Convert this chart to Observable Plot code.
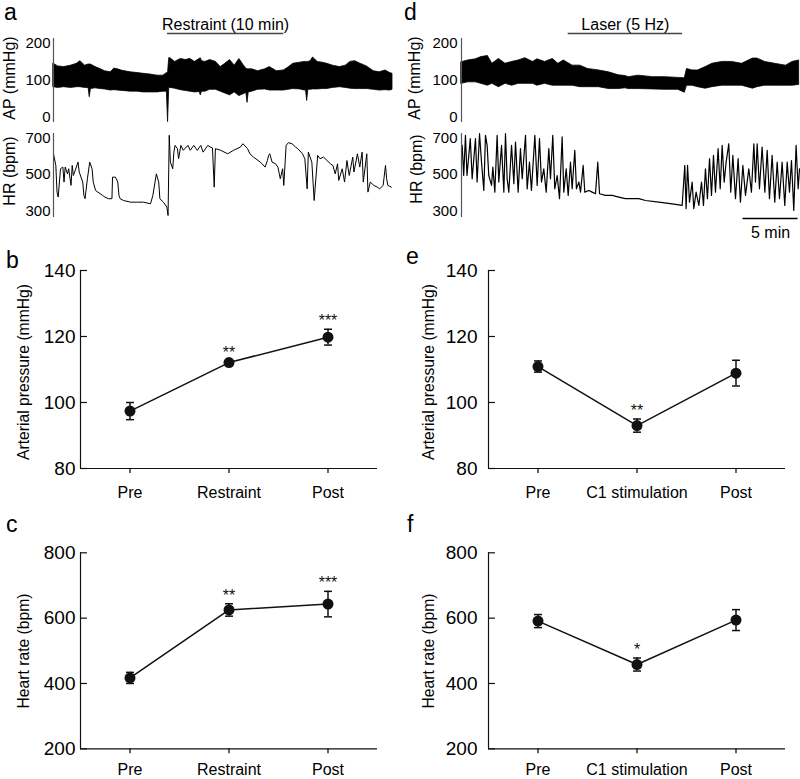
<!DOCTYPE html>
<html><head><meta charset="utf-8">
<script src="https://cdn.jsdelivr.net/npm/d3@7"></script>
<script src="https://cdn.jsdelivr.net/npm/@observablehq/plot@0.6"></script>
<style>
body{margin:0;background:#fff;}
#fig{position:relative;width:800px;height:779px;overflow:hidden;font-family:"Liberation Sans",Arial,Helvetica,sans-serif;color:#000;background:#fff;}
.p{position:absolute;}
.p svg{overflow:visible;}
#overlay{position:absolute;left:0;top:0;pointer-events:none;}
</style></head><body><div id="fig"></div><script>
// ---------- data ----------
// Panel a: restraint recording. AP trace envelope rows [time (min), low, high] in mmHg
const apRestraint = [[0.0,82,145],[0.4,80,138],[0.9,82,136],[1.5,80,140],[2.0,82,145],[2.3,82,152],[2.7,80,140],[3.0,80,143],[3.1,55,143],[3.2,77,143],[3.6,79,136],[4.0,77,131],[4.4,76,125],[4.9,73,122],[5.2,74,132],[5.5,73,130],[5.9,72,126],[6.6,70,122],[7.2,70,120],[7.7,68,118],[8.3,68,116],[8.9,68,113],[9.4,70,113],[9.7,70,120],[9.8,-12,120],[9.9,80,160],[10.0,80,160],[10.4,78,150],[10.9,74,158],[11.3,72,155],[11.7,70,158],[12.1,68,150],[12.5,69,158],[12.6,60,160],[12.7,70,152],[13.0,70,150],[13.4,75,155],[13.9,75,150],[14.3,70,136],[14.7,65,145],[15.1,60,155],[15.5,68,140],[15.9,58,158],[16.4,65,135],[16.5,66,132],[16.6,40,130],[16.7,68,130],[17.0,70,130],[17.5,75,125],[18.1,76,130],[18.5,73,136],[19.1,73,125],[19.7,73,127],[20.1,75,135],[20.5,77,145],[21.1,76,148],[21.5,73,150],[21.6,74,150],[21.7,45,150],[21.8,75,150],[22.0,75,152],[22.2,76,162],[22.6,76,150],[23.0,77,148],[23.4,77,145],[23.9,80,140],[24.5,82,136],[25.0,80,140],[25.4,78,150],[25.8,77,152],[26.2,77,146],[26.8,77,138],[27.4,75,125],[27.9,73,122],[28.4,74,127],[28.8,73,120],[29.0,75,118]];
// Panel a: HR trace rows [time (min), bpm]
const hrRestraint = [[0.0,613],[0.2,549],[0.3,403],[0.4,376],[0.6,531],[0.8,540],[0.9,458],[1.0,540],[1.2,503],[1.3,531],[1.5,440],[1.6,549],[1.7,494],[2.1,567],[2.2,513],[2.5,458],[2.6,385],[2.7,367],[2.9,476],[3.1,567],[3.3,531],[3.4,458],[3.6,412],[3.8,403],[4.2,385],[4.4,376],[4.7,367],[5.0,367],[5.05,485],[5.3,485],[5.5,458],[5.6,385],[5.7,367],[6.0,357],[6.6,348],[7.2,348],[7.7,348],[8.3,339],[8.5,385],[8.8,503],[9.0,458],[9.1,367],[9.4,348],[9.7,321],[9.8,275],[9.9,714],[10.0,567],[10.2,531],[10.3,622],[10.4,659],[10.6,641],[10.7,586],[10.9,659],[11.1,632],[11.5,659],[11.7,632],[12.0,659],[12.3,632],[12.6,659],[12.8,622],[13.2,659],[13.4,650],[13.6,645],[13.75,430],[13.85,641],[14.3,632],[14.9,613],[15.4,632],[16.0,650],[16.2,668],[16.6,641],[16.8,613],[17.1,595],[17.7,567],[18.1,540],[18.3,576],[18.4,604],[18.5,613],[18.7,567],[19.0,558],[19.2,540],[19.4,476],[19.6,531],[19.7,440],[19.9,659],[20.1,674],[20.4,668],[20.7,650],[20.9,641],[21.3,613],[21.5,586],[21.7,421],[21.8,622],[22.1,567],[22.3,357],[22.6,604],[22.8,586],[23.1,595],[23.4,576],[23.7,558],[23.9,549],[24.1,503],[24.3,558],[24.4,467],[24.7,531],[24.9,458],[25.1,576],[25.3,494],[25.6,595],[25.7,513],[26.0,613],[26.2,540],[26.4,622],[26.5,458],[26.8,613],[26.9,403],[27.1,458],[27.4,440],[27.7,430],[27.9,421],[28.2,440],[28.4,549],[28.5,476],[28.6,440],[28.9,430]];
const restraintBar = {label: "Restraint (10 min)", start: 9.75, end: 19.7};
const restraintDuration = 29.0;

// Panel d: laser recording. AP envelope rows [time (min), low, high]
const apLaser = [[0.0,91,149],[0.6,95,154],[1.3,95,157],[1.8,91,163],[2.4,86,166],[2.8,91,145],[3.4,82,158],[4.0,91,145],[4.6,86,150],[5.2,91,154],[5.8,91,160],[6.5,91,150],[6.9,86,157],[7.6,91,150],[8.3,86,158],[8.8,86,145],[9.3,86,154],[10.1,86,140],[10.8,82,140],[11.5,82,131],[12.5,82,127],[13.4,77,122],[14.3,77,114],[14.9,79,112],[15.2,77,109],[16.1,77,113],[17.4,76,109],[18.5,75,109],[19.7,75,107],[20.3,67,106],[20.5,86,131],[21.0,86,127],[21.5,82,127],[22.2,78,136],[22.8,82,145],[23.7,86,150],[24.6,86,150],[25.5,86,145],[26.5,78,159],[26.9,82,159],[27.6,86,150],[28.5,86,145],[29.5,86,140],[30.1,86,150],[30.7,88,154]];
// Panel d: HR rows [time (min), bpm]
const hrLaser = [[0.06,659],[0.2,494],[0.36,714],[0.5,494],[0.8,696],[0.97,476],[1.27,696],[1.42,458],[1.64,723],[1.82,567],[2.03,412],[2.18,714],[2.33,659],[2.48,494],[2.73,440],[2.85,540],[3.03,403],[3.24,714],[3.39,458],[3.64,659],[3.85,403],[4.0,723],[4.15,476],[4.3,403],[4.55,659],[4.76,449],[4.91,677],[5.15,403],[5.36,641],[5.52,476],[5.82,714],[5.97,421],[6.18,567],[6.36,412],[6.67,714],[6.88,440],[7.09,696],[7.27,458],[7.48,531],[7.7,403],[7.94,641],[8.09,476],[8.3,714],[8.48,421],[8.7,494],[8.91,367],[9.15,705],[9.3,403],[9.52,531],[9.7,385],[9.91,567],[10.06,421],[10.3,632],[10.45,421],[10.67,458],[10.82,403],[11.06,549],[11.21,403],[11.58,412],[11.88,403],[12.18,394],[12.39,567],[12.55,394],[13.09,385],[13.7,385],[14.3,376],[14.9,367],[16.12,367],[16.73,357],[17.94,348],[19.15,339],[20.06,330],[20.3,549],[20.42,312],[20.55,549],[20.73,348],[20.97,458],[21.12,312],[21.33,403],[21.58,330],[21.82,458],[22.0,330],[22.18,531],[22.36,367],[22.55,586],[22.73,385],[22.91,604],[23.09,403],[23.33,641],[23.52,421],[23.7,659],[23.88,458],[24.06,567],[24.3,668],[24.48,403],[24.67,604],[24.91,367],[25.15,586],[25.36,348],[25.58,549],[25.82,385],[26.12,531],[26.36,403],[26.58,668],[26.73,458],[26.88,668],[27.09,421],[27.33,650],[27.58,403],[27.79,632],[28.0,367],[28.24,604],[28.48,348],[28.7,567],[28.91,367],[29.15,567],[29.39,330],[29.61,567],[29.82,403],[30.0,576],[30.21,303],[30.42,659],[30.61,421],[30.73,531]];
const laserBar = {label: "Laser (5 Hz)", start: 9.7, end: 20.1};
const scaleBar = {label: "5 min", start: 25.6, end: 30.6};
const laserDuration = 30.73;

const apTraceTicks = [0, 100, 200];
const hrTraceTicks = [300, 500, 700];

// Panels b, c: restraint summary (mean ± SEM)
const restraintCats = ["Pre", "Restraint", "Post"];
const apRestraintMean = [97.4, 112.1, 119.8];
const apRestraintSem = [2.6, 0.6, 2.4];
const apRestraintSig = ["", "**", "***"];
const hrRestraintMean = [417, 625, 643];
const hrRestraintSem = [17, 19, 39];
const hrRestraintSig = ["", "**", "***"];

// Panels e, f: C1 stimulation summary
const stimCats = ["Pre", "C1 stimulation", "Post"];
const apStimMean = [110.9, 93.0, 108.9];
const apStimSem = [1.7, 2.0, 3.9];
const apStimSig = ["", "**", ""];
const hrStimMean = [591, 458, 594];
const hrStimSem = [20, 20, 32];
const hrStimSig = ["", "*", ""];

const apTicks = [80, 100, 120, 140];
const hrTicks = [200, 400, 600, 800];

// ---------- drawing ----------
const FONT = '"Liberation Sans", Arial, Helvetica, sans-serif';
const fig = document.getElementById("fig");
const axisGray = "#555";
function place(node, left, top) {
  const d = document.createElement("div");
  d.className = "p"; d.style.left = left + "px"; d.style.top = top + "px";
  d.appendChild(node); fig.appendChild(d);
}
const baseStyle = {fontFamily: FONT, background: "transparent", color: "#000", overflow: "visible"};

function apTrace(rowsRaw, xMax, mL, mR, pad, bar) {
  const rows = rowsRaw.map(([t, lo, hi]) => ({t, lo, hi}));
  return Plot.plot({
    width: 400, height: 125, marginLeft: mL, marginRight: mR, marginTop: 38, marginBottom: 3,
    style: baseStyle,
    x: {domain: [0, xMax], axis: null},
    y: {domain: [-13, 213]},
    marks: [
      Plot.axisY({ticks: apTraceTicks, tickSize: 0, tickPadding: pad, fontSize: 15, label: null}),
      Plot.areaY(rows, {x: "t", y1: "lo", y2: "hi", fill: "#000", stroke: "#000", strokeWidth: 0.8}),
      Plot.ruleX([0], {stroke: axisGray, strokeWidth: 1.2}),
      Plot.ruleY([213], {x1: bar.start, x2: bar.end, dy: -5, stroke: "#444", strokeWidth: 1.5}),
      Plot.text([bar.label], {x: (bar.start + bar.end) / 2, y: 213, dy: -14, fontSize: 16, fill: "#000"})
    ]
  });
}
function hrTrace(rowsRaw, xMax, mL, mR, pad, height, mB, sb, sw) {
  const rows = rowsRaw.map(([t, v]) => ({t, v}));
  const marks = [
    Plot.axisY({ticks: hrTraceTicks, tickSize: 0, tickPadding: pad, fontSize: 15, label: null}),
    Plot.line(rows, {x: "t", y: "v", stroke: "#000", strokeWidth: sw}),
    Plot.ruleX([0], {stroke: axisGray, strokeWidth: 1.2})
  ];
  if (sb) {
    marks.push(Plot.ruleY([264], {x1: sb.start, x2: sb.end, dy: 1, stroke: "#000", strokeWidth: 1.5}));
    marks.push(Plot.text([sb.label], {x: (sb.start + sb.end) / 2, y: 264, dy: 15, fontSize: 16, fill: "#000"}));
  }
  return Plot.plot({
    width: 400, height, marginLeft: mL, marginRight: mR, marginTop: 8, marginBottom: mB,
    style: baseStyle,
    x: {domain: [0, xMax], axis: null},
    y: {domain: [264, 724]},
    marks
  });
}
const cap = {draw(ctx, size) { const w = Math.sqrt(size / Math.PI); ctx.moveTo(-w, 0); ctx.lineTo(w, 0); }};
function summary(cats, mean, sem, sig, yDomain, yTicks, mL, mR, mT, mB, height, pad, xPad) {
  const rows = cats.map((c, i) => ({i, c, mean: mean[i], sem: sem[i], sig: sig[i]}));
  const innerW = 400 - mL - mR;
  return Plot.plot({
    width: 400, height, marginLeft: mL, marginRight: mR, marginTop: mT, marginBottom: mB,
    style: baseStyle,
    x: {domain: [-0.5, cats.length - 0.5]},
    y: {domain: yDomain},
    marks: [
      Plot.axisY({ticks: yTicks, tickSize: 0, tickPadding: pad, fontSize: 19, label: null}),
      Plot.tickY(yTicks, {insetRight: innerW - 7, stroke: "#111", strokeWidth: 1.2}),
      Plot.axisX({ticks: d3.range(cats.length), tickFormat: i => cats[i], tickSize: 5, tickPadding: xPad, fontSize: 16, label: null, strokeWidth: 1.2}),
      Plot.ruleX([-0.5], {stroke: "#111", strokeWidth: 1.2}),
      Plot.ruleY([yDomain[0]], {stroke: "#111", strokeWidth: 1.2}),
      Plot.line(rows, {x: "i", y: "mean", stroke: "#111", strokeWidth: 1.5}),
      Plot.ruleX(rows, {x: "i", y1: d => d.mean - d.sem, y2: d => d.mean + d.sem, stroke: "#111", strokeWidth: 1.5}),
      Plot.dot(rows, {x: "i", y: d => d.mean + d.sem, symbol: cap, r: 4, stroke: "#111", fill: "none", strokeWidth: 1.5}),
      Plot.dot(rows, {x: "i", y: d => d.mean - d.sem, symbol: cap, r: 4, stroke: "#111", fill: "none", strokeWidth: 1.5}),
      Plot.dot(rows, {x: "i", y: "mean", r: 5.5, fill: "#111"}),
      Plot.text(rows.filter(d => d.sig), {x: "i", y: d => d.mean + d.sem, text: "sig", dy: -8, fontSize: 16, fill: "#111"})
    ]
  });
}

place(apTrace(apRestraint, restraintDuration, 53, 8, 3, restraintBar), 0, 0);
place(hrTrace(hrRestraint, restraintDuration, 53, 8, 3, 100, 8, null, 1), 0, 125);
place(apTrace(apLaser, laserDuration, 61, 1, 4, laserBar), 400, 0);
place(hrTrace(hrLaser, laserDuration, 61, 1, 4, 125, 33, scaleBar, 1.2), 400, 125);

place(summary(restraintCats, apRestraintMean, apRestraintSem, apRestraintSig, [80, 140], apTicks, 80, 23, 30, 37, 265, 5, 13), 0, 240);
place(summary(restraintCats, hrRestraintMean, hrRestraintSem, hrRestraintSig, [200, 800], hrTicks, 80, 23, 47.3, 30.7, 274, 5, 10), 0, 505);
place(summary(stimCats, apStimMean, apStimSem, apStimSig, [80, 140], apTicks, 88, 15, 30, 37, 265, 11, 13), 400, 240);
place(summary(stimCats, hrStimMean, hrStimSem, hrStimSig, [200, 800], hrTicks, 88, 15, 47.3, 30.7, 274, 11, 10), 400, 505);

// overlay: panel letters and axis titles
const svg = d3.select(fig).append("svg").attr("id", "overlay").attr("width", 800).attr("height", 779)
  .style("font-family", FONT);
const letters = [["a", 4, 20], ["b", 6, 268], ["c", 6, 532], ["d", 404, 20], ["e", 406, 264], ["f", 407, 532]];
svg.selectAll("text.letter").data(letters).join("text").attr("class", "letter")
  .attr("x", d => d[1]).attr("y", d => d[2]).attr("font-size", 23).text(d => d[0]);
const titles = [
  ["AP (mmHg)", 9, 78, 16], ["HR (bpm)", 9, 171, 16], ["AP (mmHg)", 414, 78, 16], ["HR (bpm)", 416, 169, 16],
  ["Arterial pressure (mmHg)", 23.5, 372, 15.7], ["Heart rate (bpm)", 23.5, 651, 15.7],
  ["Arterial pressure (mmHg)", 428.5, 372, 15.7], ["Heart rate (bpm)", 428, 651, 15.7]
];
svg.selectAll("text.title").data(titles).join("text").attr("class", "title")
  .attr("transform", d => `translate(${d[1]},${d[2]}) rotate(-90)`)
  .attr("text-anchor", "middle").attr("dominant-baseline", "central")
  .attr("font-size", d => d[3]).text(d => d[0]);
</script></body></html>
